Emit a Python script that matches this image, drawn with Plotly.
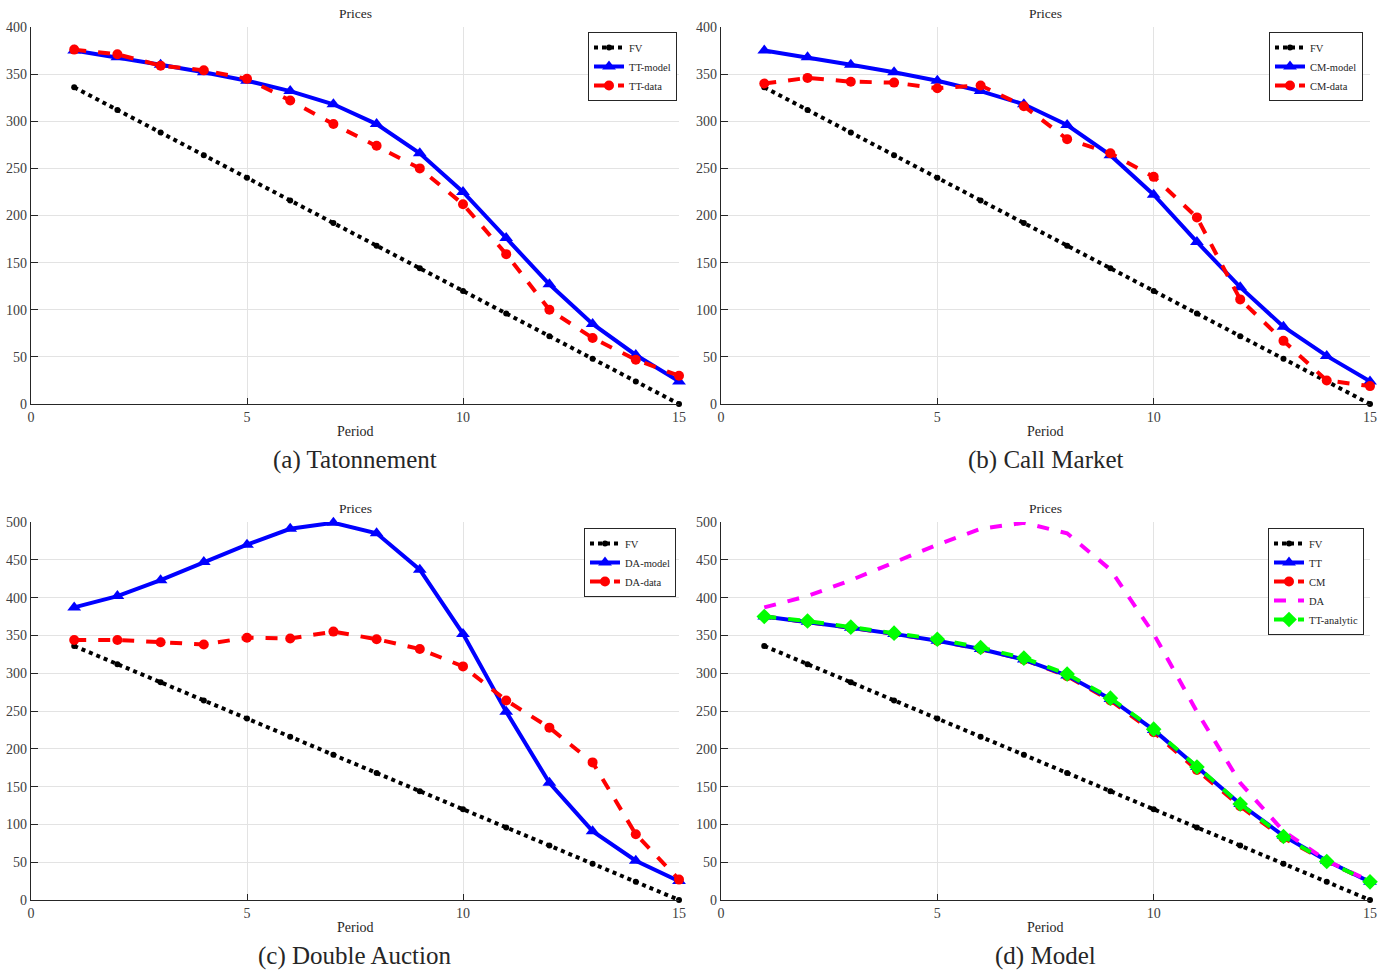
import plotly.graph_objects as go

W, H = 1382, 971

periods = list(range(1, 16))

fv = [336, 312, 288, 264, 240, 216, 192, 168, 144, 120, 96, 72, 48, 24, 0]

tt_model = [375, 368, 360, 352, 343, 332, 318, 297, 266, 225, 176, 127, 85, 52, 24]
tt_data = [376, 371, 359, 354, 345, 322, 297, 274, 250, 212, 159, 100, 70, 47, 30]

cm_model = [375, 368, 360, 352, 343, 332, 318, 296, 264, 222, 172, 124, 82, 51, 24]
cm_data = [340, 346, 342, 341, 335, 338, 316, 281, 266, 241, 198, 111, 67, 25, 19]

da_model = [387, 402, 423, 447, 470, 491, 499, 485, 437, 352, 249, 155, 91, 52, 25]
da_data = [344, 344, 341, 338, 347, 346, 355, 345, 332, 309, 264, 228, 182, 87, 27]

tt_analytic = [375, 369, 361, 353, 345, 334, 320, 299, 267, 226, 176, 127, 84, 51, 24]

captions = ["(a) Tatonnement", "(b) Call Market", "(c) Double Auction", "(d) Model"]

SERIF = "Liberation Serif, Times New Roman, serif"

# plot areas in pixels: (left, right, top, bottom)
boxes = [
    (31, 679, 27, 404),
    (721, 1370, 27, 404),
    (31, 679, 522, 900),
    (721, 1370, 522, 900),
]
ymax = [400, 400, 500, 500]

LW = 4


def px(x):
    return x / W


def py(y):
    return 1 - y / H


fig = go.Figure()


def fv_trace(ax, leg):
    return go.Scatter(
        x=periods, y=fv, name="FV", mode="lines+markers",
        line=dict(color="black", width=LW, dash="dot"),
        marker=dict(symbol="circle", size=6, color="black"),
        xaxis="x" + ax, yaxis="y" + ax, legend=leg, legendrank=1,
        cliponaxis=False,
    )


def model_trace(vals, name, ax, leg, rank=2):
    return go.Scatter(
        x=periods, y=vals, name=name, mode="lines+markers",
        line=dict(color="#0000ff", width=LW),
        marker=dict(symbol="triangle-up", size=12, color="#0000ff"),
        xaxis="x" + ax, yaxis="y" + ax, legend=leg, legendrank=rank,
        cliponaxis=False,
    )


def data_trace(vals, name, ax, leg, rank=3):
    return go.Scatter(
        x=periods, y=vals, name=name, mode="lines+markers",
        line=dict(color="#ff0000", width=LW, dash="dash"),
        marker=dict(symbol="circle", size=10, color="#ff0000"),
        xaxis="x" + ax, yaxis="y" + ax, legend=leg, legendrank=rank,
        cliponaxis=False,
    )


# (a) Tatonnement
fig.add_trace(fv_trace("", "legend"))
fig.add_trace(model_trace(tt_model, "TT-model", "", "legend"))
fig.add_trace(data_trace(tt_data, "TT-data", "", "legend"))

# (b) Call Market
fig.add_trace(fv_trace("2", "legend2"))
fig.add_trace(model_trace(cm_model, "CM-model", "2", "legend2"))
fig.add_trace(data_trace(cm_data, "CM-data", "2", "legend2"))

# (c) Double Auction
fig.add_trace(fv_trace("3", "legend3"))
fig.add_trace(model_trace(da_model, "DA-model", "3", "legend3"))
fig.add_trace(data_trace(da_data, "DA-data", "3", "legend3"))

# (d) Model comparison
fig.add_trace(fv_trace("4", "legend4"))
fig.add_trace(data_trace(cm_model, "CM", "4", "legend4", rank=3))
fig.add_trace(model_trace(tt_model, "TT", "4", "legend4", rank=2))
fig.add_trace(go.Scatter(
    x=periods, y=da_model, name="DA", mode="lines",
    line=dict(color="#ff00ff", width=LW, dash="dash"),
    xaxis="x4", yaxis="y4", legend="legend4", legendrank=4, cliponaxis=False,
))
fig.add_trace(go.Scatter(
    x=periods, y=tt_analytic, name="TT-analytic", mode="lines+markers",
    line=dict(color="#00ff00", width=LW, dash="dash"),
    marker=dict(symbol="diamond", size=12, color="#00ff00"),
    xaxis="x4", yaxis="y4", legend="legend4", legendrank=5, cliponaxis=False,
))

layout = dict(
    width=W, height=H,
    margin=dict(l=0, r=0, t=0, b=0, autoexpand=False),
    paper_bgcolor="white", plot_bgcolor="white",
    font=dict(family=SERIF, size=12, color="#262626"),
    showlegend=True,
)

TICKFONT = dict(family=SERIF, size=14, color="#404040")

annotations = []
for i, (l, r, t, b) in enumerate(boxes):
    sfx = "" if i == 0 else str(i + 1)
    layout["xaxis" + sfx] = dict(
        domain=[px(l), px(r)], range=[0, 15], anchor="y" + sfx,
        tickvals=[0, 5, 10, 15], showgrid=True, gridcolor="#e3e3e3",
        gridwidth=1, zeroline=False, showline=True, linecolor="#262626",
        linewidth=1.2, ticks="inside", ticklen=6, tickcolor="#262626",
        tickfont=TICKFONT, automargin=False,
    )
    layout["yaxis" + sfx] = dict(
        domain=[py(b), py(t)], range=[0, ymax[i]], anchor="x" + sfx,
        dtick=50, showgrid=True, gridcolor="#e3e3e3", gridwidth=1,
        zeroline=False, showline=True, linecolor="#262626", linewidth=1.2,
        ticks="inside", ticklen=7, tickcolor="#262626",
        tickfont=TICKFONT, automargin=False,
    )
    cx = px((l + r) / 2)
    annotations.append(dict(
        text="Prices", x=cx, y=py(t - 13), xref="paper", yref="paper",
        xanchor="center", yanchor="middle", showarrow=False,
        font=dict(family=SERIF, size=13.5, color="#262626"),
    ))
    annotations.append(dict(
        text="Period", x=cx, y=py(b + 27), xref="paper", yref="paper",
        xanchor="center", yanchor="middle", showarrow=False,
        font=dict(family=SERIF, size=14, color="#262626"),
    ))
    annotations.append(dict(
        text=captions[i], x=cx, y=py(b + 56), xref="paper", yref="paper",
        xanchor="center", yanchor="middle", showarrow=False,
        font=dict(family=SERIF, size=25, color="#262626"),
    ))

legend_style = dict(
    xanchor="right", yanchor="top", bgcolor="white",
    bordercolor="#262626", borderwidth=1,
    font=dict(family=SERIF, size=10.5, color="#262626"),
    itemwidth=30, tracegroupgap=0,
)
layout["legend"] = dict(x=px(677), y=py(32), **legend_style)
layout["legend2"] = dict(x=px(1363), y=py(32), **legend_style)
layout["legend3"] = dict(x=px(676), y=py(528), **legend_style)
layout["legend4"] = dict(x=px(1364), y=py(528), **legend_style)
layout["annotations"] = annotations

fig.update_layout(**layout)
fig.write_html("out.html")
